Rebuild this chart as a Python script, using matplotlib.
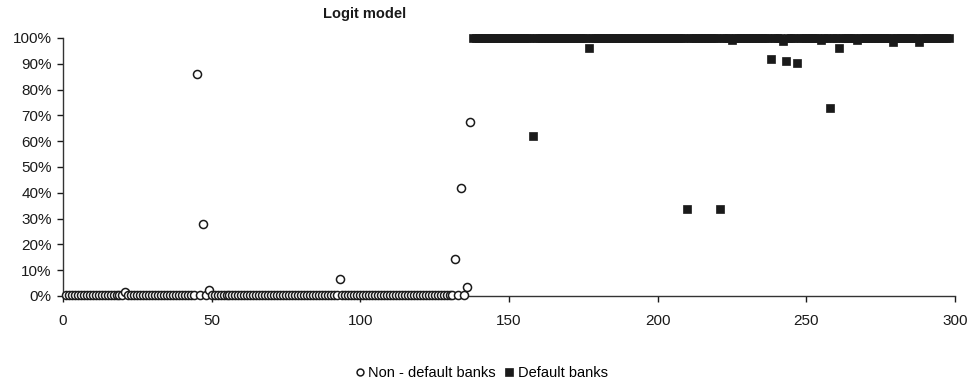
import matplotlib
matplotlib.use("Agg")
import matplotlib.pyplot as plt
from matplotlib.ticker import FuncFormatter
import numpy as np

plt.rcParams["font.family"] = ["Liberation Sans", "DejaVu Sans"]

# predicted default probability (%) per bank, banks numbered along x
nondefault_pd = [
    0.3, 0.3, 0.3, 0.3, 0.3, 0.3, 0.3, 0.3, 0.3, 0.3,
    0.3, 0.3, 0.3, 0.3, 0.3, 0.3, 0.3, 0.3, 0.3, 0.3,
    1.7, 0.3, 0.3, 0.3, 0.3, 0.3, 0.3, 0.3, 0.3, 0.3,
    0.3, 0.3, 0.3, 0.3, 0.3, 0.3, 0.3, 0.3, 0.3, 0.3,
    0.3, 0.3, 0.3, 0.3, 86.0, 0.3, 28.0, 0.3, 2.4, 0.3,
    0.3, 0.3, 0.3, 0.3, 0.3, 0.3, 0.3, 0.3, 0.3, 0.3,
    0.3, 0.3, 0.3, 0.3, 0.3, 0.3, 0.3, 0.3, 0.3, 0.3,
    0.3, 0.3, 0.3, 0.3, 0.3, 0.3, 0.3, 0.3, 0.3, 0.3,
    0.3, 0.3, 0.3, 0.3, 0.3, 0.3, 0.3, 0.3, 0.3, 0.3,
    0.3, 0.3, 6.5, 0.3, 0.3, 0.3, 0.3, 0.3, 0.3, 0.3,
    0.3, 0.3, 0.3, 0.3, 0.3, 0.3, 0.3, 0.3, 0.3, 0.3,
    0.3, 0.3, 0.3, 0.3, 0.3, 0.3, 0.3, 0.3, 0.3, 0.3,
    0.3, 0.3, 0.3, 0.3, 0.3, 0.3, 0.3, 0.3, 0.3, 0.3,
    0.3, 14.2, 0.3, 41.7, 0.3, 3.6, 67.5,
]
default_pd = [
    100, 100, 100, 100, 100, 100, 100, 100, 100, 100,
    100, 100, 100, 100, 100, 100, 100, 100, 100, 100,
    62.0, 100, 100, 100, 100, 100, 100, 100, 100, 100,
    100, 100, 100, 100, 100, 100, 100, 100, 100, 96.1,
    100, 100, 100, 100, 100, 100, 100, 100, 100, 100,
    100, 100, 100, 100, 100, 100, 100, 100, 100, 100,
    100, 100, 100, 100, 100, 100, 100, 100, 100, 100,
    100, 100, 33.7, 100, 100, 100, 100, 100, 100, 100,
    100, 100, 100, 33.7, 100, 100, 100, 99.3, 100, 100,
    100, 100, 100, 100, 100, 100, 100, 100, 100, 100,
    91.9, 100, 100, 100, 99.0, 91.2, 100, 100, 100, 90.2,
    100, 100, 100, 100, 100, 100, 100, 99.2, 100, 100,
    72.7, 100, 100, 96.1, 100, 100, 100, 100, 100, 99.4,
    100, 100, 100, 100, 100, 100, 100, 100, 100, 100,
    100, 98.5, 100, 100, 100, 100, 100, 100, 100, 100,
    98.5, 100, 100, 100, 100, 100, 100, 100, 100, 100,
    100,
]
first_default = 138

x_nd = np.arange(1, len(nondefault_pd) + 1)
x_d = np.arange(first_default, first_default + len(default_pd))

fig = plt.figure(figsize=(9.72, 3.83), dpi=100)
ax = fig.add_axes([0.0648, 0.2272, 0.9177, 0.6736])

ax.plot(x_nd, nondefault_pd, linestyle="none", marker="o", markersize=5.8,
        markerfacecolor="white", markeredgecolor="#1a1a1a", markeredgewidth=1.1,
        clip_on=False, zorder=3, label="Non - default banks")
ax.plot(x_d, default_pd, linestyle="none", marker="s", markersize=6.0,
        markerfacecolor="#1a1a1a", markeredgecolor="#1a1a1a", markeredgewidth=0.5,
        clip_on=False, zorder=3, label="Default banks")

ax.set_xlim(0, 300)
ax.set_ylim(0, 100)
ax.set_xticks(np.arange(0, 301, 50))
ax.set_yticks(np.arange(0, 101, 10))
ax.yaxis.set_major_formatter(FuncFormatter(lambda v, p: f"{v:.0f}%"))

for s in ["top", "right"]:
    ax.spines[s].set_visible(False)
for s in ["left", "bottom"]:
    ax.spines[s].set_color("#333333")
    ax.spines[s].set_linewidth(1.0)
ax.tick_params(axis="both", labelsize=11, colors="#1a1a1a", length=4, width=1.0)
ax.tick_params(axis="x", pad=9)
ax.tick_params(axis="y", pad=4)

fig.text(365 / 972, 1 - 14 / 383, "Logit model", ha="center", va="center",
         fontsize=10.5, fontweight="bold", color="#1a1a1a")

fig.legend(loc="center", bbox_to_anchor=(480 / 972, 1 - 373 / 383), ncol=2,
           frameon=False, fontsize=10.5, handletextpad=0.1, columnspacing=0.4,
           handlelength=1.0, markerscale=0.85)

fig.savefig("out.png", dpi=100)
